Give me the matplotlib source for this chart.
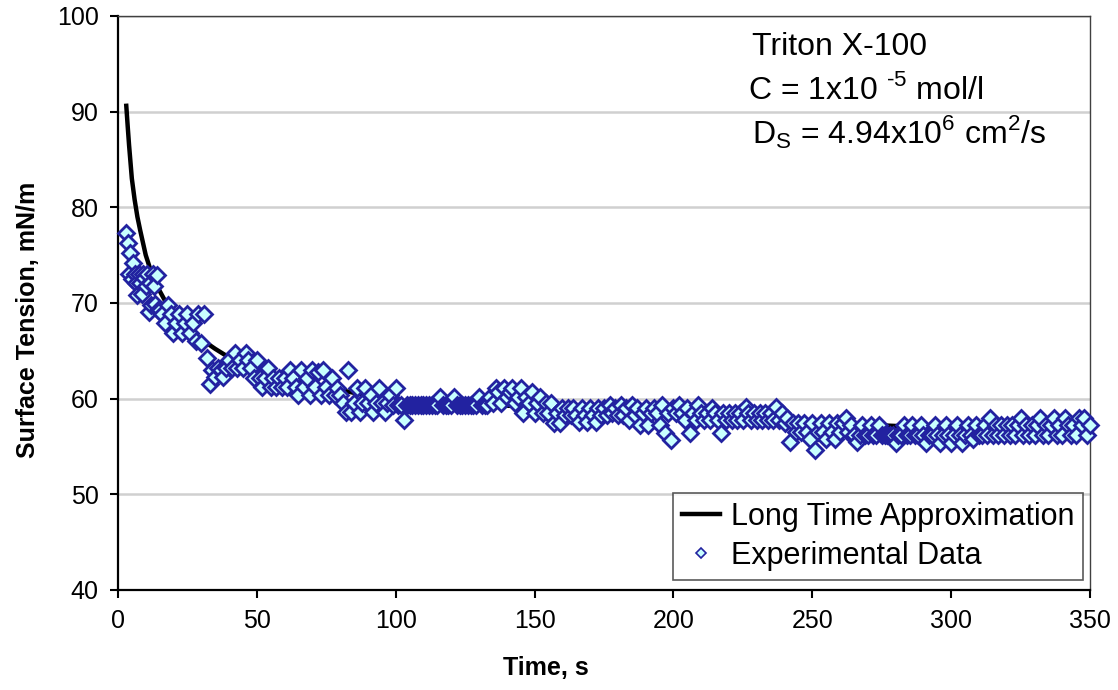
import matplotlib.pyplot as plt
import numpy as np

plt.rcParams['font.family'] = ['Liberation Sans', 'DejaVu Sans']
plt.rcParams['mathtext.fontset'] = 'custom'
plt.rcParams['mathtext.rm'] = 'Liberation Sans'

# long time approximation
fit_time = [3, 3.5, 4, 5, 6, 7, 8, 10, 12, 14, 17, 20, 25, 30, 35, 40, 50, 60,
            70, 80, 90, 100, 110, 130, 150, 160, 175, 200, 225, 250, 275, 300,
            325, 350]
fit_tension = [90.6, 88.5, 86.5, 83.0, 80.8, 79.0, 77.6, 75.0, 73.2, 71.8, 70.2,
               69.0, 67.5, 66.2, 65.2, 64.3, 63.1, 62.2, 61.5, 60.9, 60.3, 59.8,
               59.5, 59.3, 59.2, 58.9, 58.6, 58.3, 57.9, 57.4, 57.2, 56.9, 56.7,
               56.5]

# experimental data, first seconds sampled every 0.5 s
early_time = np.arange(3.0, 15.0, 0.5)
early_tension = [77.3, 76.3, 73.0, 75.2, 72.5, 74.2, 73.0, 72.1, 70.8, 73.0,
                 72.1, 70.9, 73.0, 72.6, 71.8, 73.0, 69.0, 72.1, 69.8, 73.0,
                 71.8, 69.9, 72.9, 69.3]

# then every second from 15 s to 350 s
late_time = np.arange(15.0, 351.0, 1.0)
late_tension = [
    # 15-32
    69.3, 68.8, 67.9, 69.8, 68.8, 66.9, 67.9, 68.8, 66.9, 67.9,
    68.8, 66.9, 67.9, 66.0, 68.8, 65.8, 68.8, 64.2,
    # 33-100
    61.5, 63.0, 62.3, 63.2, 63.0, 62.3, 63.2, 64.0, 63.2, 64.8,
    63.2, 64.0, 63.2, 64.8, 64.0, 63.2, 62.2, 64.0, 62.2, 61.2,
    62.2, 63.2, 61.2, 62.2, 61.2, 62.2, 61.2, 62.2, 61.2, 63.0,
    62.2, 61.2, 60.4, 63.0, 61.2, 62.2, 60.4, 63.0, 61.2, 62.8,
    60.4, 63.0, 61.2, 60.4, 62.2, 60.4, 61.1, 60.4, 59.5, 58.6,
    63.0, 58.6, 59.5, 61.1, 58.6, 59.5, 61.1, 59.5, 60.4, 58.6,
    59.5, 61.1, 59.5, 58.6, 59.5, 60.4, 59.3, 61.1,
    # 101-133
    59.3, 59.3, 57.8, 59.3, 59.3, 59.3, 59.3, 59.3, 59.3, 59.3,
    59.3, 59.3, 59.3, 59.3, 59.3, 60.2, 59.3, 59.3, 59.3, 59.3,
    60.2, 59.3, 59.3, 59.3, 59.3, 59.3, 59.3, 59.3, 59.3, 60.2,
    59.3, 59.3, 59.3,
    # 134-159
    60.2, 59.5, 61.1, 60.7, 59.5, 61.1, 60.2, 60.7, 61.1, 59.5,
    60.2, 61.1, 58.5, 60.2, 59.5, 60.7, 58.5, 59.5, 60.2, 58.5,
    59.5, 58.5, 59.5, 57.5, 58.5, 57.5,
    # 160-239
    59.0, 58.3, 59.0, 58.3, 59.0, 58.3, 57.6, 59.0, 58.3, 57.6,
    59.0, 58.3, 57.6, 59.0, 58.3, 59.0, 58.3, 59.3, 58.5, 59.0,
    58.3, 59.3, 58.3, 59.0, 57.8, 59.3, 58.3, 59.0, 57.2, 58.5,
    59.0, 57.2, 58.5, 59.0, 58.5, 57.2, 59.3, 56.4, 58.5, 55.7,
    59.0, 58.5, 59.3, 58.5, 57.8, 59.0, 56.4, 58.5, 57.8, 59.3,
    58.5, 57.8, 58.5, 57.8, 59.0, 58.5, 57.8, 56.4, 58.5, 57.8,
    58.5, 57.8, 58.5, 57.8, 58.5, 57.8, 59.1, 58.5, 57.8, 58.5,
    57.8, 58.5, 57.8, 58.5, 57.8, 58.5, 57.8, 59.1, 57.8, 58.5,
    # 240-266
    57.4, 58.0, 55.5, 57.4, 56.5, 57.4, 56.5, 57.4, 56.5, 55.8,
    57.4, 54.6, 56.5, 57.4, 56.5, 55.8, 57.4, 56.5, 55.8, 57.4,
    56.5, 57.4, 58.0, 56.5, 57.2, 56.2, 55.5,
    # 267-350
    56.2, 57.2, 56.2, 56.2, 57.2, 56.2, 56.2, 57.2, 56.2, 56.2,
    56.2, 56.2, 56.2, 55.4, 56.2, 56.2, 57.2, 56.2, 56.2, 57.2,
    56.2, 56.2, 57.2, 56.2, 55.4, 56.2, 56.2, 57.2, 56.2, 55.4,
    56.2, 57.2, 56.2, 55.4, 56.2, 57.2, 56.2, 55.4, 56.2, 57.2,
    56.2, 55.8, 57.2, 56.2, 56.2, 57.2, 56.2, 58.0, 56.2, 57.2,
    56.2, 57.2, 56.2, 57.2, 56.2, 57.2, 56.2, 57.2, 58.0, 56.2,
    57.2, 56.2, 57.2, 56.2, 57.2, 58.0, 56.2, 57.2, 56.2, 57.2,
    58.0, 56.2, 57.2, 56.2, 58.0, 57.2, 56.2, 57.2, 56.2, 58.0,
    57.2, 58.0, 56.2, 57.2,
]

exp_time = np.concatenate([early_time, late_time])
exp_tension = np.concatenate([early_tension, late_tension])

fig = plt.figure(figsize=(11.18, 6.9), dpi=100)
ax = fig.add_axes([0.1055, 0.145, 0.8695, 0.832])

ax.grid(axis='y', color='#d0d0d0', linewidth=1.8, zorder=0)
ax.set_axisbelow(True)

ax.plot(fit_time, fit_tension, color='black', linewidth=3.2, zorder=2,
        label='Long Time Approximation')
ax.plot(exp_time, exp_tension, linestyle='none', marker='D', markersize=8.2,
        markerfacecolor='#c8ffff', markeredgecolor='#2222a0',
        markeredgewidth=2.0, zorder=3, clip_on=False,
        label='Experimental Data')

ax.set_xlim(0, 350)
ax.set_ylim(40, 100)
ax.set_xticks(np.arange(0, 351, 50))
ax.set_yticks(np.arange(40, 101, 10))
ax.tick_params(direction='out', length=6, width=1.5, labelsize=18, pad=8)

for side in ['left', 'bottom']:
    ax.spines[side].set_linewidth(1.6)
    ax.spines[side].set_color('black')
for side in ['top', 'right']:
    ax.spines[side].set_linewidth(1.0)
    ax.spines[side].set_color('#404040')

ax.set_xlabel('Time, s', fontsize=18, fontweight='bold')
ax.xaxis.set_label_coords(0.44, -0.115)
ax.set_ylabel('Surface Tension, mN/m', fontsize=18, fontweight='bold')
ax.yaxis.set_label_coords(-0.08, 0.47)

leg = ax.legend(loc='lower right', bbox_to_anchor=(0.993, 0.017), fontsize=22,
                frameon=True, fancybox=False, edgecolor='#303030',
                handlelength=1.25, handletextpad=0.35, borderpad=0.3,
                labelspacing=0.3, borderaxespad=0, markerscale=0.6)
leg.get_frame().set_linewidth(1.2)
leg.legend_handles[1].set_markeredgewidth(1.2)

ax.text(0.652, 0.946, 'Triton X-100', transform=ax.transAxes, fontsize=23,
        va='center', ha='left')
ax.text(0.648, 0.871, r'C = 1x10 $^{\text{-5}}$ mol/l',
        transform=ax.transAxes, fontsize=23, va='center', ha='left')
ax.text(0.652, 0.798, r'D$_\mathregular{S}$ = 4.94x10$^\mathregular{6}$ cm$^\mathregular{2}$/s',
        transform=ax.transAxes, fontsize=23, va='center', ha='left')

fig.savefig('out.png', dpi=100)
